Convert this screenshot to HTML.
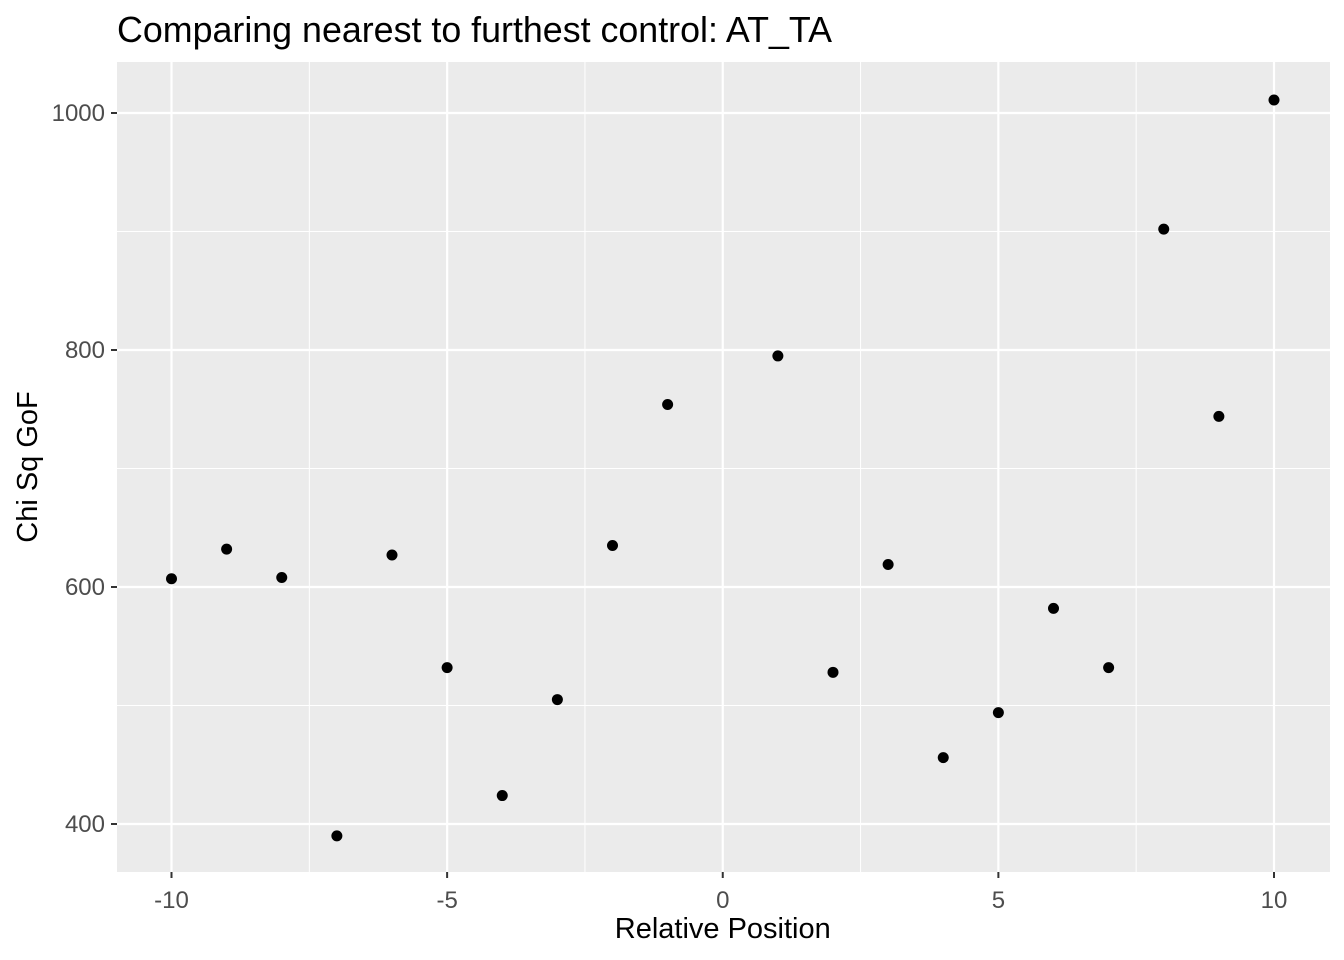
<!DOCTYPE html>
<html><head><meta charset="utf-8"><style>
html,body{margin:0;padding:0;background:#fff;}
svg{display:block;font-family:"Liberation Sans",Arial,sans-serif;}
</style></head><body>
<svg id="chart" width="1344" height="960" xmlns="http://www.w3.org/2000/svg">
<text x="117" y="42" font-size="35.8" fill="#000">Comparing nearest to furthest control: AT_TA</text>
<rect x="117" y="62" width="1213" height="810" fill="#ebebeb"/>
<g id="grid"></g>
<g id="points"></g>
<g id="axes"></g>
<text x="722.75" y="938" font-size="29" text-anchor="middle" fill="#000">Relative Position</text>
<text transform="translate(37,467) rotate(-90)" font-size="29" text-anchor="middle" fill="#000">Chi Sq GoF</text>
</svg>
<script>
const positions = [-10,-9,-8,-7,-6,-5,-4,-3,-2,-1,1,2,3,4,5,6,7,8,9,10];
const chiSq = [607,632,608,390,627,532,424,505,635,754,795,528,619,456,494,582,532,902,744,1011];
const xTicks = [-10,-5,0,5,10];
const xTickLabels = ["-10","-5","0","5","10"];
const yTicks = [400,600,800,1000];
const yTickLabels = ["400","600","800","1000"];
const xMinor = [-7.5,-2.5,2.5,7.5];
const yMinor = [500,700,900];

const L=117,R=1330,T=62,B=872;
function xs(v){return 722.75+v*55.125;}
function ys(v){return 113+(1000-v)*1.185;}
const NS="http://www.w3.org/2000/svg";
function mk(tag,attrs,parent){const e=document.createElementNS(NS,tag);for(const k in attrs)e.setAttribute(k,attrs[k]);parent.appendChild(e);return e;}
const grid=document.getElementById('grid'),pts=document.getElementById('points'),axes=document.getElementById('axes');
xMinor.forEach(v=>{const l=mk('line',{x1:xs(v),x2:xs(v),y1:T,y2:B,stroke:'#fff','stroke-width':1},grid);

});
yMinor.forEach(v=>{const l=mk('line',{x1:L,x2:R,y1:ys(v),y2:ys(v),stroke:'#fff','stroke-width':1},grid);

});
xTicks.forEach((v,i)=>{const l=mk('line',{x1:xs(v),x2:xs(v),y1:T,y2:B,stroke:'#fff','stroke-width':2.2},grid);


const t=mk('line',{x1:xs(v),x2:xs(v),y1:B,y2:B+6,stroke:'#333','stroke-width':2},axes);


const tx=mk('text',{x:xs(v),y:B+36,'font-size':24,'text-anchor':'middle',fill:'#4d4d4d'},axes);tx.textContent=xTickLabels[i];

});
yTicks.forEach((v,i)=>{const l=mk('line',{x1:L,x2:R,y1:ys(v),y2:ys(v),stroke:'#fff','stroke-width':2.2},grid);


const t=mk('line',{x1:L-6,x2:L,y1:ys(v),y2:ys(v),stroke:'#333','stroke-width':2},axes);


const tx=mk('text',{x:L-12,y:ys(v)+8,'font-size':24,'text-anchor':'end',fill:'#4d4d4d'},axes);tx.textContent=yTickLabels[i];

});
positions.forEach((p,i)=>{const c=mk('circle',{cx:xs(p),cy:ys(chiSq[i]),r:5.5,fill:'#000'},pts);

});
</script>
</body></html>
